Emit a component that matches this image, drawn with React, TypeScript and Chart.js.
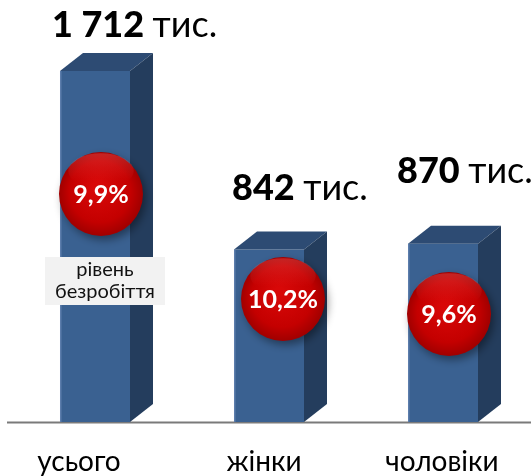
import React, { useEffect, useRef } from "react";
import { Chart, registerables } from "chart.js";

Chart.register(...registerables);

// ---- data ----
const categories = ["усього", "жінки", "чоловіки"];
const unemployedThousands = [1712, 842, 870];
const unemploymentRate = [9.9, 10.2, 9.6];
const unitLabel = "тис.";
const rateCaption = ["рівень", "безробіття"];
const yMax = 2000;

// ---- style / layout tweaks ----
const FONT = "Lato, 'Noto Sans', sans-serif";
const depthX = 23;
const depthY = 18;
const valueLabelLift = [34, 49, 61];
const valueLabelDx = [-8, -2, -11];
const circleRise = [228, 123, 108];
const circleDx = [6, 14, 6];
const categoryDx = [-16, -5, -1];
const circleR = 42;

function fmt(n: number) {
  return n.toString().replace(/\B(?=(\d{3})+(?!\d))/g, " ");
}

const decorPlugin = {
  id: "decor",
  beforeDatasetsDraw(chart: any) {
    const ctx = chart.ctx;
    const area = chart.chartArea;
    ctx.save();
    ctx.strokeStyle = "#7a7a7a";
    ctx.lineWidth = 2;
    ctx.beginPath();
    ctx.moveTo(7, area.bottom + 0.5);
    ctx.lineTo(chart.width, area.bottom + 0.5);
    ctx.stroke();
    ctx.restore();
  },
  afterDatasetsDraw(chart: any) {
    const ctx = chart.ctx;
    const meta = chart.getDatasetMeta(0);
    meta.data.forEach((bar: any, i: number) => {
      const { x, y, base, width } = bar.getProps(["x", "y", "base", "width"], true);
      const l = x - width / 2;
      const r = x + width / 2;
      ctx.save();
      ctx.fillStyle = "rgba(120,150,195,0.55)";
      ctx.fillRect(l, y, 1.5, base - y);
      // top face
      ctx.fillStyle = "#2d4b73";
      ctx.beginPath();
      ctx.moveTo(l, y);
      ctx.lineTo(l + depthX, y - depthY);
      ctx.lineTo(r + depthX, y - depthY);
      ctx.lineTo(r, y);
      ctx.closePath();
      ctx.fill();
      // side face
      ctx.fillStyle = "#243d5d";
      ctx.beginPath();
      ctx.moveTo(r, y);
      ctx.lineTo(r + depthX, y - depthY);
      ctx.lineTo(r + depthX, base - depthY);
      ctx.lineTo(r, base);
      ctx.closePath();
      ctx.fill();
      ctx.restore();

      // value label
      ctx.save();
      ctx.fillStyle = "#000";
      ctx.textBaseline = "alphabetic";
      ctx.textAlign = "left";
      const num = fmt(unemployedThousands[i]);
      ctx.font = `900 36px ${FONT}`;
      const lx = l + valueLabelDx[i];
      const ly = y - valueLabelLift[i];
      ctx.fillText(num, lx, ly);
      const w = ctx.measureText(num + " ").width;
      ctx.font = `36px ${FONT}`;
      ctx.fillText(unitLabel, lx + w, ly);
      ctx.restore();

      // circle
      const cx = x + circleDx[i];
      const cy = base - circleRise[i];
      ctx.save();
      ctx.shadowColor = "rgba(0,0,0,0.4)";
      ctx.shadowBlur = 8;
      ctx.shadowOffsetX = 3;
      ctx.shadowOffsetY = 4;
      const g = ctx.createRadialGradient(cx - 4, cy - 8, 4, cx, cy, circleR);
      g.addColorStop(0, "#d80808");
      g.addColorStop(0.7, "#c40000");
      g.addColorStop(1, "#a00000");
      ctx.fillStyle = g;
      ctx.beginPath();
      ctx.arc(cx, cy, circleR, 0, Math.PI * 2);
      ctx.fill();
      ctx.restore();
      // subtle top gloss
      ctx.save();
      const g2 = ctx.createLinearGradient(0, cy - circleR, 0, cy - circleR * 0.3);
      g2.addColorStop(0, "rgba(255,110,110,0.35)");
      g2.addColorStop(1, "rgba(255,80,80,0)");
      ctx.fillStyle = g2;
      ctx.beginPath();
      ctx.ellipse(cx, cy - circleR * 0.55, circleR * 0.78, circleR * 0.42, 0, 0, Math.PI * 2);
      ctx.fill();
      ctx.restore();
      // percent text
      ctx.save();
      ctx.fillStyle = "#fff";
      ctx.font = `bold 25px ${FONT}`;
      ctx.textAlign = "center";
      ctx.textBaseline = "middle";
      ctx.fillText(unemploymentRate[i].toFixed(1).replace(".", ",") + "%", cx, cy + 1);
      ctx.restore();

      // caption under first circle
      if (i === 0) {
        const bx = cx + 4;
        const top = cy + 63;
        ctx.save();
        ctx.fillStyle = "#f2f2f2";
        ctx.fillRect(bx - 60, top, 120, 48);
        ctx.fillStyle = "#111";
        ctx.font = `20px ${FONT}`;
        ctx.textAlign = "center";
        ctx.textBaseline = "alphabetic";
        ctx.fillText(rateCaption[0], bx, top + 19);
        ctx.fillText(rateCaption[1], bx, top + 41);
        ctx.restore();
      }
    });

    // category labels
    const xs = chart.scales.x;
    ctx.save();
    ctx.fillStyle = "#000";
    ctx.font = `28px ${FONT}`;
    ctx.textAlign = "center";
    ctx.textBaseline = "alphabetic";
    categories.forEach((c, i) => {
      ctx.fillText(c, xs.getPixelForValue(i) + categoryDx[i], 471);
    });
    ctx.restore();
  },
};

export default function App() {
  const ref = useRef<HTMLCanvasElement | null>(null);
  useEffect(() => {
    if (!ref.current) return;
    const chart = new Chart(ref.current, {
      type: "bar",
      data: {
        labels: categories,
        datasets: [
          {
            data: unemployedThousands,
            backgroundColor: "#3a6191",
            borderWidth: 0,
            categoryPercentage: 1,
            barPercentage: 0.4023,
          },
        ],
      },
      options: {
        animation: false,
        responsive: false,
        events: [],
        layout: { padding: { left: 8, right: 1, top: 12, bottom: 54 } },
        plugins: { legend: { display: false }, tooltip: { enabled: false } },
        scales: {
          x: { display: false },
          y: { display: false, min: 0, max: yMax },
        },
      },
      plugins: [decorPlugin],
    });
    return () => chart.destroy();
  }, []);
  return (
    <div style={{ position: "fixed", left: 0, top: 0, width: 531, height: 476, background: "#fff" }}>
      <canvas ref={ref} width={531} height={476} style={{ width: 531, height: 476 }} />
    </div>
  );
}
